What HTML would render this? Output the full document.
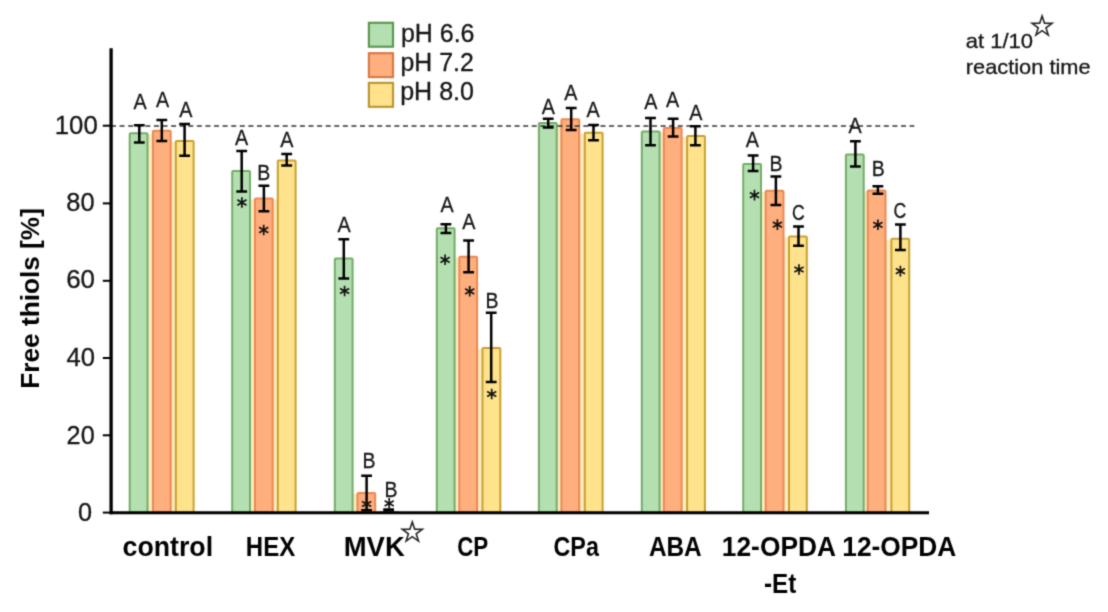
<!DOCTYPE html><html><head><meta charset="utf-8"><style>html,body{margin:0;padding:0;background:#fff;width:1108px;height:612px;overflow:hidden}svg{display:block}text{font-family:"Liberation Sans",sans-serif;font-kerning:none}</style></head><body>
<svg width="1108" height="612" viewBox="0 0 1108 612">
<defs><filter id="soft" x="0" y="0" width="1108" height="612" filterUnits="userSpaceOnUse" color-interpolation-filters="sRGB"><feConvolveMatrix order="3" kernelMatrix="0.02768 0.11101 0.02768 0.11101 0.44521 0.11101 0.02768 0.11101 0.02768" divisor="1" edgeMode="duplicate" preserveAlpha="true"/></filter></defs>
<g filter="url(#soft)">
<rect width="1108" height="612" fill="#fff"/>
<rect x="147.5" y="134.3" width="5.4" height="378.5" fill="#fbecc0"/>
<rect x="170.7" y="141.9" width="5.1" height="370.9" fill="#fbecc0"/>
<rect x="250.0" y="199.4" width="4.9" height="313.4" fill="#fbecc0"/>
<rect x="272.7" y="199.4" width="5.1" height="313.4" fill="#fbecc0"/>
<rect x="352.6" y="493.9" width="4.8" height="18.9" fill="#fbecc0"/>
<rect x="454.6" y="257.7" width="4.7" height="255.1" fill="#fbecc0"/>
<rect x="477.1" y="349.0" width="5.4" height="163.8" fill="#fbecc0"/>
<rect x="556.7" y="123.9" width="4.7" height="388.9" fill="#fbecc0"/>
<rect x="579.2" y="133.7" width="5.6" height="379.1" fill="#fbecc0"/>
<rect x="659.6" y="132.5" width="4.2" height="380.3" fill="#fbecc0"/>
<rect x="681.6" y="136.9" width="5.5" height="375.9" fill="#fbecc0"/>
<rect x="761.0" y="191.7" width="4.7" height="321.1" fill="#fbecc0"/>
<rect x="783.5" y="237.4" width="5.5" height="275.4" fill="#fbecc0"/>
<rect x="863.7" y="191.4" width="4.0" height="321.4" fill="#fbecc0"/>
<rect x="885.5" y="239.8" width="5.9" height="273.0" fill="#fbecc0"/>
<rect x="129.7" y="133.3" width="17.8" height="379.5" rx="1.0" fill="#b4e0b1" stroke="#74ab69" stroke-width="2"/>
<rect x="152.9" y="130.7" width="17.8" height="382.1" rx="1.0" fill="#ffae7d" stroke="#ec8853" stroke-width="2"/>
<rect x="175.8" y="140.9" width="17.8" height="371.9" rx="1.0" fill="#ffe38c" stroke="#c9a030" stroke-width="2"/>
<rect x="232.2" y="171.0" width="17.8" height="341.8" rx="1.0" fill="#b4e0b1" stroke="#74ab69" stroke-width="2"/>
<rect x="254.9" y="198.4" width="17.8" height="314.4" rx="1.0" fill="#ffae7d" stroke="#ec8853" stroke-width="2"/>
<rect x="277.8" y="160.5" width="17.8" height="352.3" rx="1.0" fill="#ffe38c" stroke="#c9a030" stroke-width="2"/>
<rect x="334.8" y="258.6" width="17.8" height="254.2" rx="1.0" fill="#b4e0b1" stroke="#74ab69" stroke-width="2"/>
<rect x="357.4" y="492.9" width="17.8" height="19.9" rx="1.0" fill="#ffae7d" stroke="#ec8853" stroke-width="2"/>
<rect x="380.3" y="512.0" width="17.8" height="0.8" rx="1.0" fill="#ffe38c" stroke="#c9a030" stroke-width="2"/>
<rect x="436.8" y="228.2" width="17.8" height="284.6" rx="1.0" fill="#b4e0b1" stroke="#74ab69" stroke-width="2"/>
<rect x="459.3" y="256.7" width="17.8" height="256.1" rx="1.0" fill="#ffae7d" stroke="#ec8853" stroke-width="2"/>
<rect x="482.5" y="348.0" width="17.8" height="164.8" rx="1.0" fill="#ffe38c" stroke="#c9a030" stroke-width="2"/>
<rect x="538.9" y="122.9" width="17.8" height="389.9" rx="1.0" fill="#b4e0b1" stroke="#74ab69" stroke-width="2"/>
<rect x="561.4" y="119.2" width="17.8" height="393.6" rx="1.0" fill="#ffae7d" stroke="#ec8853" stroke-width="2"/>
<rect x="584.8" y="132.7" width="17.8" height="380.1" rx="1.0" fill="#ffe38c" stroke="#c9a030" stroke-width="2"/>
<rect x="641.8" y="131.5" width="17.8" height="381.3" rx="1.0" fill="#b4e0b1" stroke="#74ab69" stroke-width="2"/>
<rect x="663.8" y="128.0" width="17.8" height="384.8" rx="1.0" fill="#ffae7d" stroke="#ec8853" stroke-width="2"/>
<rect x="687.1" y="135.9" width="17.8" height="376.9" rx="1.0" fill="#ffe38c" stroke="#c9a030" stroke-width="2"/>
<rect x="743.2" y="163.9" width="17.8" height="348.9" rx="1.0" fill="#b4e0b1" stroke="#74ab69" stroke-width="2"/>
<rect x="765.7" y="190.7" width="17.8" height="322.1" rx="1.0" fill="#ffae7d" stroke="#ec8853" stroke-width="2"/>
<rect x="789.0" y="236.4" width="17.8" height="276.4" rx="1.0" fill="#ffe38c" stroke="#c9a030" stroke-width="2"/>
<rect x="845.9" y="154.4" width="17.8" height="358.4" rx="1.0" fill="#b4e0b1" stroke="#74ab69" stroke-width="2"/>
<rect x="867.7" y="190.4" width="17.8" height="322.4" rx="1.0" fill="#ffae7d" stroke="#ec8853" stroke-width="2"/>
<rect x="891.4" y="238.8" width="17.8" height="274.0" rx="1.0" fill="#ffe38c" stroke="#c9a030" stroke-width="2"/>
<line x1="111.0" y1="125.9" x2="914.3" y2="125.9" stroke="#333" stroke-width="1.5" stroke-dasharray="5 3.587"/>
<path d="M139.3 125.2V142.6M133.9 125.2H144.7M133.9 142.6H144.7" stroke="#000" stroke-width="2.5" fill="none"/>
<path d="M161.8 120.1V141.1M156.4 120.1H167.2M156.4 141.1H167.2" stroke="#000" stroke-width="2.5" fill="none"/>
<path d="M184.6 124.0V155.8M179.2 124.0H190.0M179.2 155.8H190.0" stroke="#000" stroke-width="2.5" fill="none"/>
<path d="M241.7 151.1V191.4M236.3 151.1H247.1M236.3 191.4H247.1" stroke="#000" stroke-width="2.5" fill="none"/>
<path d="M263.9 185.8V211.2M258.5 185.8H269.3M258.5 211.2H269.3" stroke="#000" stroke-width="2.5" fill="none"/>
<path d="M286.7 153.9V165.5M281.3 153.9H292.1M281.3 165.5H292.1" stroke="#000" stroke-width="2.5" fill="none"/>
<path d="M343.8 239.3V278.4M338.4 239.3H349.2M338.4 278.4H349.2" stroke="#000" stroke-width="2.5" fill="none"/>
<path d="M366.6 475.7V510.3M361.2 475.7H372.0M361.2 510.3H372.0" stroke="#000" stroke-width="2.5" fill="none"/>
<path d="M388.6 509.6V510.3M383.2 509.6H394.0M383.2 510.3H394.0" stroke="#000" stroke-width="2.5" fill="none"/>
<path d="M445.9 224.3V232.9M440.5 224.3H451.3M440.5 232.9H451.3" stroke="#000" stroke-width="2.5" fill="none"/>
<path d="M468.6 240.5V272.3M463.2 240.5H474.0M463.2 272.3H474.0" stroke="#000" stroke-width="2.5" fill="none"/>
<path d="M491.2 312.8V382.1M485.8 312.8H496.6M485.8 382.1H496.6" stroke="#000" stroke-width="2.5" fill="none"/>
<path d="M548.2 118.7V127.5M542.8 118.7H553.6M542.8 127.5H553.6" stroke="#000" stroke-width="2.5" fill="none"/>
<path d="M571.2 107.9V130.0M565.8 107.9H576.6M565.8 130.0H576.6" stroke="#000" stroke-width="2.5" fill="none"/>
<path d="M593.5 125.0V140.3M588.1 125.0H598.9M588.1 140.3H598.9" stroke="#000" stroke-width="2.5" fill="none"/>
<path d="M650.5 117.9V145.3M645.1 117.9H655.9M645.1 145.3H655.9" stroke="#000" stroke-width="2.5" fill="none"/>
<path d="M673.1 118.8V136.5M667.7 118.8H678.5M667.7 136.5H678.5" stroke="#000" stroke-width="2.5" fill="none"/>
<path d="M695.4 126.2V145.3M690.0 126.2H700.8M690.0 145.3H700.8" stroke="#000" stroke-width="2.5" fill="none"/>
<path d="M753.1 155.6V170.9M747.7 155.6H758.5M747.7 170.9H758.5" stroke="#000" stroke-width="2.5" fill="none"/>
<path d="M775.9 176.5V205.1M770.5 176.5H781.3M770.5 205.1H781.3" stroke="#000" stroke-width="2.5" fill="none"/>
<path d="M798.5 226.6V245.7M793.1 226.6H803.9M793.1 245.7H803.9" stroke="#000" stroke-width="2.5" fill="none"/>
<path d="M855.4 141.2V166.6M850.0 141.2H860.8M850.0 166.6H860.8" stroke="#000" stroke-width="2.5" fill="none"/>
<path d="M877.9 186.2V193.8M872.5 186.2H883.3M872.5 193.8H883.3" stroke="#000" stroke-width="2.5" fill="none"/>
<path d="M900.4 224.6V250.0M895.0 224.6H905.8M895.0 250.0H905.8" stroke="#000" stroke-width="2.5" fill="none"/>
<path d="M241.9 197.2V207.8M237.3 199.8L246.5 205.2M237.3 205.2L246.5 199.8" stroke="#111" stroke-width="1.7" fill="none"/>
<path d="M263.7 224.7V235.3M259.1 227.3L268.3 232.7M259.1 232.7L268.3 227.3" stroke="#111" stroke-width="1.7" fill="none"/>
<path d="M344.6 285.7V296.3M340.0 288.4L349.2 293.6M340.0 293.6L349.2 288.4" stroke="#111" stroke-width="1.7" fill="none"/>
<path d="M366.6 498.7V509.3M362.0 501.4L371.2 506.6M362.0 506.6L371.2 501.4" stroke="#111" stroke-width="1.7" fill="none"/>
<path d="M389.2 498.1V508.7M384.6 500.8L393.8 506.0M384.6 506.0L393.8 500.8" stroke="#111" stroke-width="1.7" fill="none"/>
<path d="M445.1 254.5V265.1M440.5 257.2L449.7 262.4M440.5 262.4L449.7 257.2" stroke="#111" stroke-width="1.7" fill="none"/>
<path d="M469.7 286.0V296.6M465.1 288.7L474.3 293.9M465.1 293.9L474.3 288.7" stroke="#111" stroke-width="1.7" fill="none"/>
<path d="M491.7 388.7V399.3M487.1 391.4L496.3 396.6M487.1 396.6L496.3 391.4" stroke="#111" stroke-width="1.7" fill="none"/>
<path d="M754.5 189.8V200.4M749.9 192.4L759.1 197.8M749.9 197.8L759.1 192.4" stroke="#111" stroke-width="1.7" fill="none"/>
<path d="M777.4 219.3V229.9M772.8 221.9L782.0 227.2M772.8 227.2L782.0 221.9" stroke="#111" stroke-width="1.7" fill="none"/>
<path d="M799.0 264.2V274.8M794.4 266.9L803.6 272.1M794.4 272.1L803.6 266.9" stroke="#111" stroke-width="1.7" fill="none"/>
<path d="M877.9 219.5V230.1M873.3 222.2L882.5 227.5M873.3 227.5L882.5 222.2" stroke="#111" stroke-width="1.7" fill="none"/>
<path d="M900.4 265.8V276.4M895.8 268.5L905.0 273.8M895.8 273.8L905.0 268.5" stroke="#111" stroke-width="1.7" fill="none"/>
<text x="133.46" y="108.90" font-size="22.6" stroke="#151515" stroke-width="0.3" textLength="13.18" lengthAdjust="spacingAndGlyphs" fill="#151515">A</text>
<text x="155.96" y="106.70" font-size="22.6" stroke="#151515" stroke-width="0.3" textLength="13.18" lengthAdjust="spacingAndGlyphs" fill="#151515">A</text>
<text x="179.16" y="117.40" font-size="22.6" stroke="#151515" stroke-width="0.3" textLength="13.18" lengthAdjust="spacingAndGlyphs" fill="#151515">A</text>
<text x="235.01" y="145.10" font-size="22.6" stroke="#151515" stroke-width="0.3" textLength="13.18" lengthAdjust="spacingAndGlyphs" fill="#151515">A</text>
<text x="257.20" y="179.90" font-size="22.6" stroke="#151515" stroke-width="0.3" textLength="13.03" lengthAdjust="spacingAndGlyphs" fill="#151515">B</text>
<text x="280.31" y="147.00" font-size="22.6" stroke="#151515" stroke-width="0.3" textLength="13.18" lengthAdjust="spacingAndGlyphs" fill="#151515">A</text>
<text x="337.61" y="231.80" font-size="22.6" stroke="#151515" stroke-width="0.3" textLength="13.18" lengthAdjust="spacingAndGlyphs" fill="#151515">A</text>
<text x="362.50" y="468.10" font-size="22.6" stroke="#151515" stroke-width="0.3" textLength="13.03" lengthAdjust="spacingAndGlyphs" fill="#151515">B</text>
<text x="384.60" y="497.10" font-size="22.6" stroke="#151515" stroke-width="0.3" textLength="13.03" lengthAdjust="spacingAndGlyphs" fill="#151515">B</text>
<text x="440.41" y="212.10" font-size="22.6" stroke="#151515" stroke-width="0.3" textLength="13.18" lengthAdjust="spacingAndGlyphs" fill="#151515">A</text>
<text x="462.31" y="229.40" font-size="22.6" stroke="#151515" stroke-width="0.3" textLength="13.18" lengthAdjust="spacingAndGlyphs" fill="#151515">A</text>
<text x="485.40" y="307.60" font-size="22.6" stroke="#151515" stroke-width="0.3" textLength="13.03" lengthAdjust="spacingAndGlyphs" fill="#151515">B</text>
<text x="541.71" y="113.80" font-size="22.6" stroke="#151515" stroke-width="0.3" textLength="13.18" lengthAdjust="spacingAndGlyphs" fill="#151515">A</text>
<text x="564.21" y="99.60" font-size="22.6" stroke="#151515" stroke-width="0.3" textLength="13.18" lengthAdjust="spacingAndGlyphs" fill="#151515">A</text>
<text x="586.41" y="116.70" font-size="22.6" stroke="#151515" stroke-width="0.3" textLength="13.18" lengthAdjust="spacingAndGlyphs" fill="#151515">A</text>
<text x="644.21" y="109.40" font-size="22.6" stroke="#151515" stroke-width="0.3" textLength="13.18" lengthAdjust="spacingAndGlyphs" fill="#151515">A</text>
<text x="666.11" y="107.10" font-size="22.6" stroke="#151515" stroke-width="0.3" textLength="13.18" lengthAdjust="spacingAndGlyphs" fill="#151515">A</text>
<text x="689.21" y="120.40" font-size="22.6" stroke="#151515" stroke-width="0.3" textLength="13.18" lengthAdjust="spacingAndGlyphs" fill="#151515">A</text>
<text x="745.81" y="147.30" font-size="22.6" stroke="#151515" stroke-width="0.3" textLength="13.18" lengthAdjust="spacingAndGlyphs" fill="#151515">A</text>
<text x="769.40" y="170.80" font-size="22.6" stroke="#151515" stroke-width="0.3" textLength="13.03" lengthAdjust="spacingAndGlyphs" fill="#151515">B</text>
<text x="791.90" y="220.03" font-size="22.6" stroke="#151515" stroke-width="0.3" textLength="12.77" lengthAdjust="spacingAndGlyphs" fill="#151515">C</text>
<text x="848.51" y="132.80" font-size="22.6" stroke="#151515" stroke-width="0.3" textLength="13.18" lengthAdjust="spacingAndGlyphs" fill="#151515">A</text>
<text x="871.80" y="176.40" font-size="22.6" stroke="#151515" stroke-width="0.3" textLength="13.03" lengthAdjust="spacingAndGlyphs" fill="#151515">B</text>
<text x="893.50" y="218.03" font-size="22.6" stroke="#151515" stroke-width="0.3" textLength="12.77" lengthAdjust="spacingAndGlyphs" fill="#151515">C</text>
<line x1="111.1" y1="48.3" x2="111.1" y2="514.3" stroke="#000" stroke-width="3.3"/>
<line x1="109.7" y1="512.8" x2="929" y2="512.8" stroke="#000" stroke-width="3"/>
<line x1="102.8" y1="512.6" x2="111" y2="512.6" stroke="#000" stroke-width="2"/>
<line x1="102.8" y1="435.3" x2="111" y2="435.3" stroke="#000" stroke-width="2"/>
<line x1="102.8" y1="358" x2="111" y2="358" stroke="#000" stroke-width="2"/>
<line x1="102.8" y1="280.8" x2="111" y2="280.8" stroke="#000" stroke-width="2"/>
<line x1="102.8" y1="203.4" x2="111" y2="203.4" stroke="#000" stroke-width="2"/>
<line x1="102.8" y1="125.7" x2="111" y2="125.7" stroke="#000" stroke-width="2"/>
<text x="78.01" y="521.00" font-size="25.0" stroke="#151515" stroke-width="0.3" textLength="14.08" lengthAdjust="spacingAndGlyphs" fill="#151515">0</text>
<text x="66.63" y="443.80" font-size="25.0" stroke="#151515" stroke-width="0.3" textLength="28.05" lengthAdjust="spacingAndGlyphs" fill="#151515">20</text>
<text x="66.51" y="365.50" font-size="25.0" stroke="#151515" stroke-width="0.3" textLength="28.49" lengthAdjust="spacingAndGlyphs" fill="#151515">40</text>
<text x="66.18" y="288.10" font-size="25.0" stroke="#151515" stroke-width="0.3" textLength="28.83" lengthAdjust="spacingAndGlyphs" fill="#151515">60</text>
<text x="66.29" y="210.60" font-size="25.0" stroke="#151515" stroke-width="0.3" textLength="28.30" lengthAdjust="spacingAndGlyphs" fill="#151515">80</text>
<text x="54.74" y="133.90" font-size="25.0" stroke="#151515" stroke-width="0.3" textLength="42.97" lengthAdjust="spacingAndGlyphs" fill="#151515">100</text>
<text transform="translate(38.8,0) rotate(-90)" x="-388.75" y="0" font-size="26.5" font-weight="bold" textLength="180.63" lengthAdjust="spacingAndGlyphs" fill="#000">Free thiols [%]</text>
<text x="122.56" y="556.00" font-size="27.0" font-weight="bold" textLength="90.54" lengthAdjust="spacingAndGlyphs" fill="#000">control</text>
<text x="245.79" y="556.00" font-size="27.0" font-weight="bold" textLength="49.42" lengthAdjust="spacingAndGlyphs" fill="#000">HEX</text>
<text x="343.76" y="556.00" font-size="27.0" font-weight="bold" textLength="60.99" lengthAdjust="spacingAndGlyphs" fill="#000">MVK</text>
<text x="457.18" y="556.00" font-size="27.0" font-weight="bold" textLength="31.08" lengthAdjust="spacingAndGlyphs" fill="#000">CP</text>
<text x="553.54" y="556.00" font-size="27.0" font-weight="bold" textLength="45.31" lengthAdjust="spacingAndGlyphs" fill="#000">CPa</text>
<text x="648.89" y="556.00" font-size="27.0" font-weight="bold" textLength="52.85" lengthAdjust="spacingAndGlyphs" fill="#000">ABA</text>
<text x="721.84" y="556.00" font-size="27.0" font-weight="bold" textLength="114.15" lengthAdjust="spacingAndGlyphs" fill="#000">12-OPDA</text>
<text x="842.24" y="556.00" font-size="27.0" font-weight="bold" textLength="114.15" lengthAdjust="spacingAndGlyphs" fill="#000">12-OPDA</text>
<text x="763.95" y="592.60" font-size="27.0" font-weight="bold" textLength="32.34" lengthAdjust="spacingAndGlyphs" fill="#000">-Et</text>
<rect x="368.9" y="22.8" width="24.1" height="23.9" fill="#b4e0b1" stroke="#5c9852" stroke-width="2.2"/>
<rect x="368.9" y="53.2" width="24.1" height="23.9" fill="#ffae7d" stroke="#d97a44" stroke-width="2.2"/>
<rect x="368.9" y="82.9" width="24.1" height="23.9" fill="#ffe38c" stroke="#bf9530" stroke-width="2.2"/>
<text x="400.99" y="41.60" font-size="25" stroke="#151515" stroke-width="0.3" textLength="73.50" lengthAdjust="spacingAndGlyphs" fill="#151515">pH 6.6</text>
<text x="400.50" y="70.60" font-size="25" stroke="#151515" stroke-width="0.3" textLength="73.25" lengthAdjust="spacingAndGlyphs" fill="#151515">pH 7.2</text>
<text x="400.19" y="100.00" font-size="25" stroke="#151515" stroke-width="0.3" textLength="73.79" lengthAdjust="spacingAndGlyphs" fill="#151515">pH 8.0</text>
<polygon points="1042.10,16.10 1044.51,23.28 1052.09,23.36 1046.00,27.87 1048.27,35.09 1042.10,30.70 1035.93,35.09 1038.20,27.87 1032.11,23.36 1039.69,23.28" fill="none" stroke="#222" stroke-width="1.6" stroke-linejoin="miter"/>
<polygon points="412.30,522.10 414.71,529.28 422.29,529.36 416.20,533.87 418.47,541.09 412.30,536.70 406.13,541.09 408.40,533.87 402.31,529.36 409.89,529.28" fill="none" stroke="#222" stroke-width="1.6" stroke-linejoin="miter"/>
<text x="965.77" y="48.00" font-size="20.3" stroke="#151515" stroke-width="0.3" textLength="67.29" lengthAdjust="spacingAndGlyphs" fill="#151515">at 1/10</text>
<text x="965.85" y="74.40" font-size="20.3" stroke="#151515" stroke-width="0.3" textLength="124.71" lengthAdjust="spacingAndGlyphs" fill="#151515">reaction time</text>
</g></svg></body></html>
